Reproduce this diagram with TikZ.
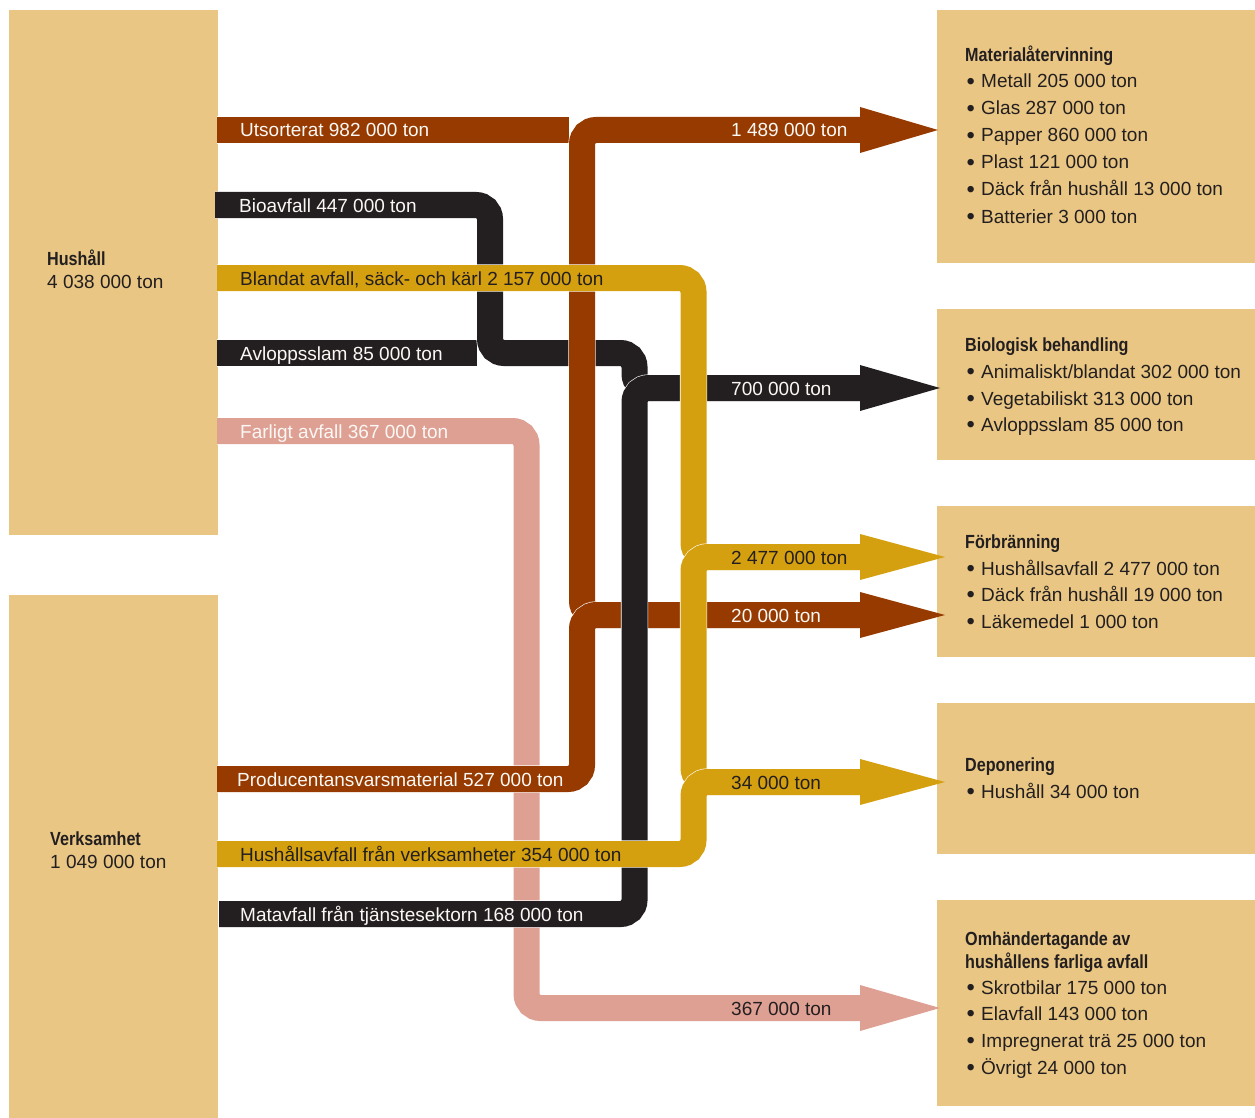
\documentclass[tikz,border=0pt]{standalone}
\usepackage{fontspec}
\setmainfont{Liberation Sans}[BoldFeatures={FakeStretch=0.85}]
\definecolor{boxfill}{RGB}{233,198,131}
\definecolor{fbrown}{RGB}{150,58,0}
\definecolor{fblack}{RGB}{35,31,32}
\definecolor{fyellow}{RGB}{213,160,15}
\definecolor{fpink}{RGB}{223,160,148}
\definecolor{ink}{RGB}{35,31,32}
\definecolor{paper}{RGB}{250,248,245}
% bullet with a fixed indent for the list items
\newcommand{\itembul}{\makebox[16pt][l]{\hspace{1.5pt}\raisebox{-1.4pt}{\scalebox{1.25}{•}}}}
\begin{document}
\begin{tikzpicture}[x=1pt,y=-1pt,
  font=\fontsize{19}{23}\selectfont,
  box/.style={fill=boxfill, draw=none, anchor=north west, inner sep=0pt},
  band/.style={draw=white, line width=0.6pt, double=#1, double distance=26pt,
               rounded corners=14pt, line cap=butt},
  txt/.style={anchor=base west, inner sep=0pt, text=ink},
  ltxt/.style={anchor=base west, inner sep=0pt, text=paper},
  hd/.style={txt, font=\fontsize{19}{23}\selectfont\bfseries}]
\useasboundingbox (0,0) rectangle (1255,1118);

% source boxes
\node[box, minimum width=209pt, minimum height=525pt] (hush) at (9,10) {};
\node[box, minimum width=209pt, minimum height=523pt] (verk) at (9,595) {};
\node[hd] (hushT) at (47,265) {Hushåll};
\node[txt] (hushN) at (47,288) {4 038 000 ton};
\node[hd] (verkT) at (50,845) {Verksamhet};
\node[txt] (verkN) at (50,868) {1 049 000 ton};

% target boxes
\node[box, minimum width=318pt, minimum height=253pt] (mat) at (937,10) {};
\node[box, minimum width=318pt, minimum height=151pt] (bio) at (937,309) {};
\node[box, minimum width=318pt, minimum height=151pt] (forb) at (937,506) {};
\node[box, minimum width=318pt, minimum height=151pt] (dep) at (937,703) {};
\node[box, minimum width=318pt, minimum height=206pt] (farl) at (937,900) {};

% waypoints of the flows
\coordinate (sUts) at (217,130);   \coordinate (eUts) at (569,130);
\coordinate (sBio) at (215,205);   \coordinate (sBla) at (217,278);
\coordinate (sAvl) at (217,353);   \coordinate (eAvl) at (477,353);
\coordinate (sFar) at (217,431);   \coordinate (sPro) at (217,779);
\coordinate (sHva) at (217,854);   \coordinate (sMat) at (219,914);
\coordinate (eMat) at (860,130);   \coordinate (eBio) at (860,388);
\coordinate (eFor) at (860,557);   \coordinate (eFor2) at (860,615);
\coordinate (eDep) at (860,782);   \coordinate (eFar) at (860,1008);

% hazardous waste (lowest layer)
\draw[band=fpink] (sFar) -- (526.5,431) -- (526.5,1008) -- (eFar);

% biological flows, upper part
\draw[band=fblack] (sAvl) -- (eAvl);
\draw[band=fblack] (sBio) -- (490,205) -- (490,353) -- (634.5,353) -- (634.5,388) -- (eBio);

% material recycling flows
\draw[band=fbrown] (sUts) -- (eUts);
\draw[band=fbrown] (eFor2) -- (582,615) -- (582,130) -- (eMat);
\draw[band=fbrown] (sPro) -- (582,779) -- (582,615) -- (eFor2);

% food waste from services
\draw[band=fblack] (sMat) -- (634.5,914) -- (634.5,388) -- (eBio);

% mixed household waste
\draw[band=fyellow] (sBla) -- (693.5,278) -- (693.5,557) -- (eFor);
\draw[band=fyellow] (eDep) -- (693.5,782) -- (693.5,557) -- (eFor);
\draw[band=fyellow] (sHva) -- (693.5,854) -- (693.5,782) -- (eDep);

% arrow heads
\fill[fbrown]  ([yshift=23pt]eMat) -- (938,130) -- ([yshift=-23pt]eMat) -- cycle;
\fill[fblack]  ([yshift=23pt]eBio) -- (940,388) -- ([yshift=-23pt]eBio) -- cycle;
\fill[fyellow] ([yshift=23pt]eFor) -- (945,557) -- ([yshift=-23pt]eFor) -- cycle;
\fill[fbrown]  ([yshift=23pt]eFor2) -- (945,615) -- ([yshift=-23pt]eFor2) -- cycle;
\fill[fyellow] ([yshift=23pt]eDep) -- (945,782) -- ([yshift=-23pt]eDep) -- cycle;
\fill[fpink]   ([yshift=23pt]eFar) -- (940,1008) -- ([yshift=-23pt]eFar) -- cycle;

% flow labels
\node[ltxt] (lUts) at (240,137) {Utsorterat 982 000 ton};
\node[ltxt] (lBio) at (239,212) {Bioavfall 447 000 ton};
\node[txt]  (lBla) at (240,285) {Blandat avfall, säck- och kärl 2 157 000 ton};
\node[ltxt] (lAvl) at (240,360) {Avloppsslam 85 000 ton};
\node[ltxt] (lFar) at (240,438) {Farligt avfall 367 000 ton};
\node[ltxt] (lPro) at (237,786) {Producentansvarsmaterial 527 000 ton};
\node[txt]  (lHva) at (240,861) {Hushållsavfall från verksamheter 354 000 ton};
\node[ltxt] (lMat) at (240,921) {Matavfall från tjänstesektorn 168 000 ton};

\node[ltxt] (oMat) at (731,137) {1 489 000 ton};
\node[ltxt] (oBio) at (731,395) {700 000 ton};
\node[txt]  (oFor) at (731,564) {2 477 000 ton};
\node[ltxt] (oFor2) at (731,622) {20 000 ton};
\node[txt]  (oDep) at (731,789) {34 000 ton};
\node[txt]  (oFar) at (731,1015) {367 000 ton};

% target box contents
\node[hd]  (m0) at (965,62)  {Materialåtervinning};
\node[txt] (m1) at (965,88)  {\itembul Metall 205 000 ton};
\node[txt] (m2) at (965,115) {\itembul Glas 287 000 ton};
\node[txt] (m3) at (965,142) {\itembul Papper 860 000 ton};
\node[txt] (m4) at (965,169) {\itembul Plast 121 000 ton};
\node[txt] (m5) at (965,196) {\itembul Däck från hushåll 13 000 ton};
\node[txt] (m6) at (965,223) {\itembul Batterier 3 000 ton};

\node[hd]  (b0) at (965,351) {Biologisk behandling};
\node[txt] (b1) at (965,378) {\itembul Animaliskt/blandat 302 000 ton};
\node[txt] (b2) at (965,405) {\itembul Vegetabiliskt 313 000 ton};
\node[txt] (b3) at (965,431) {\itembul Avloppsslam 85 000 ton};

\node[hd]  (f0) at (965,548) {Förbränning};
\node[txt] (f1) at (965,575) {\itembul Hushållsavfall 2 477 000 ton};
\node[txt] (f2) at (965,601) {\itembul Däck från hushåll 19 000 ton};
\node[txt] (f3) at (965,628) {\itembul Läkemedel 1 000 ton};

\node[hd]  (d0) at (965,771) {Deponering};
\node[txt] (d1) at (965,798) {\itembul Hushåll 34 000 ton};

\node[hd]  (o0) at (965,945) {Omhändertagande av};
\node[hd]  (o1) at (965,968) {hushållens farliga avfall};
\node[txt] (o2) at (965,994) {\itembul Skrotbilar 175 000 ton};
\node[txt] (o3) at (965,1020) {\itembul Elavfall 143 000 ton};
\node[txt] (o4) at (965,1047) {\itembul Impregnerat trä 25 000 ton};
\node[txt] (o5) at (965,1074) {\itembul Övrigt 24 000 ton};
\end{tikzpicture}
\end{document}
